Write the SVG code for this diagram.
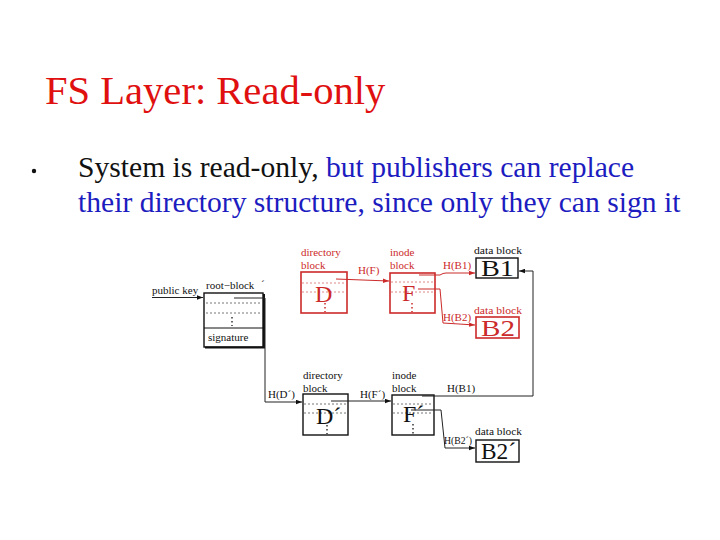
<svg xmlns="http://www.w3.org/2000/svg" width="720" height="540" viewBox="0 0 720 540">
<style>
.ser{font-family:"Liberation Serif","Times New Roman",serif}
.lbl{font-family:"Liberation Serif","Times New Roman",serif;font-size:11px}
.big{font-family:"Liberation Serif","Times New Roman",serif;font-size:24px}
.red{fill:#cc2a2a}
.blk{fill:#111}
.boxr{fill:none;stroke:#cc2a2a;stroke-width:1.6}
.boxk{fill:none;stroke:#111;stroke-width:1.4}
.dotr{stroke:#d88;stroke-width:1;stroke-dasharray:2 2}
.dotk{stroke:#777;stroke-width:1;stroke-dasharray:2 2}
.vdotr{stroke:#cc2a2a;stroke-width:1.5;stroke-dasharray:1.5 2.5}
.vdotk{stroke:#333;stroke-width:1.5;stroke-dasharray:1.5 2.5}
.cr{fill:none;stroke:#cc2a2a;stroke-width:1}
.ck{fill:none;stroke:#222;stroke-width:1}
</style>
<defs>
<marker id="ak" viewBox="0 0 8 6" refX="8" refY="3" markerWidth="6" markerHeight="5" orient="auto" markerUnits="userSpaceOnUse"><path d="M0,0 L8,3 L0,6 z" fill="#111"/></marker>
<marker id="ar" viewBox="0 0 8 6" refX="8" refY="3" markerWidth="6" markerHeight="5" orient="auto" markerUnits="userSpaceOnUse"><path d="M0,0 L8,3 L0,6 z" fill="#cc2a2a"/></marker>
</defs>
<rect width="720" height="540" fill="#fff"/>
<text class="ser" x="45" y="104" font-size="40.6" fill="#e01010">FS Layer: Read-only</text>
<circle cx="34" cy="171" r="2.2" fill="#111"/>
<text class="ser" x="78" y="177" font-size="29.6"><tspan fill="#111">System is read-only, </tspan><tspan fill="#1c1cc0">but publishers can replace</tspan></text>
<text class="ser" x="78" y="212" font-size="29.6" fill="#1c1cc0">their directory structure, since only they can sign it</text>

<g id="root-block">
<text class="lbl blk" x="206" y="289">root−block</text>
<text class="lbl blk" x="261" y="288">´</text>
<rect x="204" y="293" width="59" height="54" class="boxk" stroke-width="1"/>
<path d="M205,347.5 H264 V294" fill="none" stroke="#111" stroke-width="2"/>
<line x1="206" y1="303" x2="261" y2="303" class="dotk"/>
<line x1="206" y1="313" x2="261" y2="313" class="dotk"/>
<line x1="232" y1="317" x2="232" y2="326" class="vdotk"/>
<line x1="204" y1="328" x2="263" y2="328" stroke="#111" stroke-width="1"/>
<text class="lbl blk" x="208" y="341" fill="#333">signature</text>
</g>
<g id="public-key">
<text class="lbl blk" x="152" y="294">public key</text>
</g>

<g id="dir-top">
<text class="lbl red" x="301" y="256">directory</text>
<text class="lbl red" x="301" y="268.5">block</text>
<rect x="301" y="272" width="46" height="41" class="boxr"/>
<line x1="302" y1="283" x2="346" y2="283" class="dotr"/>
<line x1="302" y1="292" x2="346" y2="292" class="dotr"/>
<text class="big red" x="315" y="302" font-size="26">D</text>
<line x1="325" y1="303" x2="325" y2="312" class="vdotr"/>
</g>
<g id="inode-top">
<text class="lbl red" x="390" y="256">inode</text>
<text class="lbl red" x="390" y="268.5">block</text>
<rect x="390" y="273" width="45" height="40" class="boxr"/>
<line x1="391" y1="282" x2="434" y2="282" class="dotr"/>
<line x1="391" y1="292" x2="434" y2="292" class="dotr"/>
<text class="big red" x="402" y="301" font-size="26">F</text>
<line x1="412" y1="303" x2="412" y2="312" class="vdotr"/>
</g>
<g id="b1">
<text class="lbl blk" x="474" y="254" textLength="48" lengthAdjust="spacingAndGlyphs">data block</text>
<rect x="476" y="258" width="42" height="20" class="boxk" stroke-width="1.6"/>
<text class="big blk" x="481" y="276" textLength="33" lengthAdjust="spacingAndGlyphs">B1</text>
</g>
<g id="b2">
<text class="lbl red" x="474" y="314" textLength="48" lengthAdjust="spacingAndGlyphs">data block</text>
<rect x="476" y="317" width="43" height="21" class="boxr"/>
<text class="big red" x="481" y="336" textLength="34" lengthAdjust="spacingAndGlyphs">B2</text>
</g>

<g id="dir-bottom">
<text class="lbl blk" x="303" y="379">directory</text>
<text class="lbl blk" x="303" y="391.5">block</text>
<rect x="303" y="394" width="45" height="41" class="boxk"/>
<line x1="304" y1="404" x2="347" y2="404" class="dotk"/>
<line x1="304" y1="413" x2="347" y2="413" class="dotk"/>
<text class="big blk" x="316" y="424" font-size="26">D´</text>
<line x1="327" y1="425" x2="327" y2="434" class="vdotk"/>
</g>
<g id="inode-bottom">
<text class="lbl blk" x="392" y="379">inode</text>
<text class="lbl blk" x="392" y="391.5">block</text>
<rect x="392" y="395" width="42" height="40" class="boxk"/>
<line x1="393" y1="404" x2="433" y2="404" class="dotk"/>
<line x1="393" y1="413" x2="433" y2="413" class="dotk"/>
<text class="big blk" x="403" y="422" font-size="26">F´</text>
<line x1="413" y1="424" x2="413" y2="434" class="vdotk"/>
</g>
<g id="b2-prime">
<text class="lbl blk" x="475" y="435" textLength="47" lengthAdjust="spacingAndGlyphs">data block</text>
<rect x="476" y="440" width="43" height="22" class="boxk" stroke-width="1.8"/>
<text class="big blk" x="481" y="459" textLength="35" lengthAdjust="spacingAndGlyphs">B2´</text>
</g>

<g id="connectors">
<path d="M152,297.5 H203" class="ck" stroke-width="1.8" marker-end="url(#ak)"/>
<path d="M234,298 H265 V402 H302" class="ck" marker-end="url(#ak)"/>
<text class="lbl blk" x="268" y="398">H(D´)</text>
<path d="M336,279 L389,281" class="cr" marker-end="url(#ar)"/>
<text class="lbl red" x="358" y="274">H(F)</text>
<path d="M419,275 H440 Q443,273 446,273 H475" class="cr" marker-end="url(#ar)"/>
<text class="lbl red" x="443" y="269">H(B1)</text>
<path d="M418,289 H440 L443,323 L475,325" class="cr" marker-end="url(#ar)"/>
<text class="lbl red" x="443" y="321">H(B2)</text>
<path d="M331,401 H391" class="ck" stroke-width="2.2" marker-end="url(#ak)"/>
<text class="lbl blk" x="360" y="398">H(F´)</text>
<path d="M422,396 H533 V271 H519" class="ck" marker-end="url(#ak)"/>
<text class="lbl blk" x="447" y="392">H(B1)</text>
<path d="M411,410 H441 L445,448 H475" class="ck" marker-end="url(#ak)"/>
<text class="lbl blk" x="444" y="444" textLength="28" lengthAdjust="spacingAndGlyphs">H(B2´)</text>
</g>
</svg>
